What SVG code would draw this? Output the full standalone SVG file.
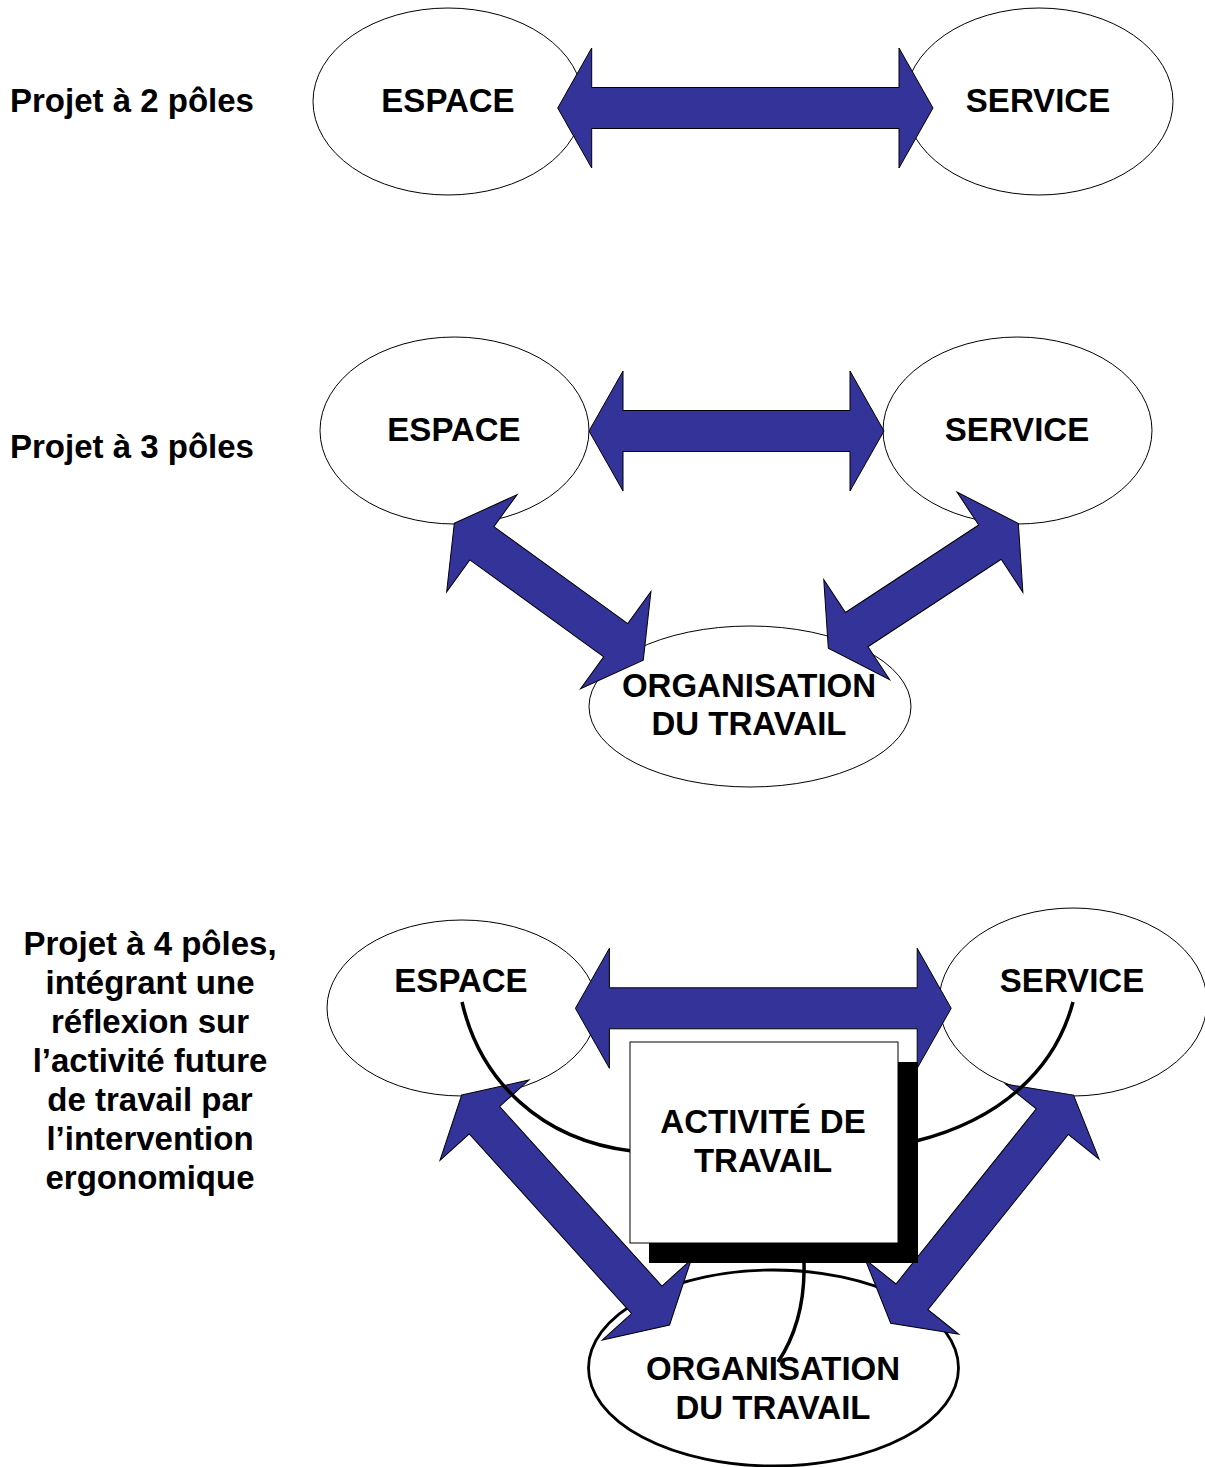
<svg xmlns="http://www.w3.org/2000/svg" width="1205" height="1467" viewBox="0 0 1205 1467">
<style>
.bg{fill:#fff}
.el{fill:#fff;stroke:#000;stroke-width:1}
.elb{fill:#fff;stroke:#000;stroke-width:2.8}
.arr{fill:#333399;stroke:#000;stroke-width:1;stroke-linejoin:miter}
.cv{fill:none;stroke:#000;stroke-width:3.5}
.t{font-family:"Liberation Sans",Arial,sans-serif;font-weight:bold;font-size:33px;fill:#000}
.m{text-anchor:middle}
</style>
<rect class="bg" x="0" y="0" width="1205" height="1467"/>

<!-- Section 1 -->
<text class="t" x="10" y="112">Projet à 2 pôles</text>
<g id="s1-espace"><ellipse class="el" cx="448" cy="101.5" rx="135" ry="93.5"/><text class="t m" x="448" y="112">ESPACE</text></g>
<g id="s1-service"><ellipse class="el" cx="1039" cy="101.5" rx="134" ry="93.5"/><text class="t m" x="1038" y="112">SERVICE</text></g>
<g id="s1-connectors">
<polygon class="arr" transform="translate(557.7,108)" points="0,0 34,-60 34,-20.5 341.3,-20.5 341.3,-60 375.3,0 341.3,60 341.3,20.5 34,20.5 34,60"/>
</g>

<!-- Section 2 -->
<text class="t" x="10" y="458">Projet à 3 pôles</text>
<g id="s2-espace"><ellipse class="el" cx="454.5" cy="430.5" rx="134.5" ry="93.5"/><text class="t m" x="454" y="441">ESPACE</text></g>
<g id="s2-service"><ellipse class="el" cx="1017.5" cy="430.5" rx="134.5" ry="93.5"/><text class="t m" x="1017" y="441">SERVICE</text></g>
<g id="s2-organisation"><ellipse class="el" cx="750" cy="706.5" rx="161" ry="80.5"/></g>
<g id="s2-connectors">
<polygon class="arr" transform="translate(589,431)" points="0,0 34,-60 34,-20.5 261,-20.5 261,-60 295,0 261,60 261,20.5 34,20.5 34,60"/>
<polygon class="arr" transform="translate(454.3,523.3) rotate(35.9)" points="0,0 34,-60 34,-20.5 199.3,-20.5 199.3,-60 233.3,0 199.3,60 199.3,20.5 34,20.5 34,60"/>
<polygon class="arr" transform="translate(828.3,648.3) rotate(-33.3)" points="0,0 34,-60 34,-20.5 193.4,-20.5 193.4,-60 227.4,0 193.4,60 193.4,20.5 34,20.5 34,60"/>
</g>
<g id="s2-organisation-label"><text class="t m" x="749" y="697">ORGANISATION</text><text class="t m" x="749" y="735">DU TRAVAIL</text></g>

<!-- Section 3 -->
<g id="s3-label">
<text class="t m" x="150" y="955">Projet à 4 pôles,</text>
<text class="t m" x="150" y="994">intégrant une</text>
<text class="t m" x="150" y="1033">réflexion sur</text>
<text class="t m" x="150" y="1072">l’activité future</text>
<text class="t m" x="150" y="1111">de travail par</text>
<text class="t m" x="150" y="1150">l’intervention</text>
<text class="t m" x="150" y="1189">ergonomique</text>
</g>
<g id="s3-espace"><ellipse class="el" cx="462" cy="1008" rx="135" ry="88"/></g>
<g id="s3-service"><ellipse class="el" cx="1073" cy="1002" rx="134" ry="94"/></g>
<g id="s3-organisation"><ellipse class="elb" cx="773.5" cy="1368" rx="185" ry="98"/></g>
<g id="s3-connectors">
<polygon class="arr" transform="translate(575.4,1008.3)" points="0,0 34,-60 34,-20.5 341.8,-20.5 341.8,-60 375.8,0 341.8,60 341.8,20.5 34,20.5 34,60"/>
<polygon class="arr" transform="translate(461.7,1095) rotate(47.9)" points="0,0 34,-60 34,-20.5 276,-20.5 276,-60 310,0 276,60 276,20.5 34,20.5 34,60"/>
<polygon class="arr" transform="translate(890.7,1323.3) rotate(-51.3)" points="0,0 34,-60 34,-20.5 258.4,-20.5 258.4,-60 292.4,0 258.4,60 258.4,20.5 34,20.5 34,60"/>
<path class="cv" d="M462,1002 C480,1080 540,1140 632,1151"/>
<path class="cv" d="M1073,1002 C1055,1070 1000,1120 916,1141"/>
<path class="cv" d="M804,1262 C805,1300 796,1335 778,1362"/>
</g>
<g id="s3-activite">
<rect x="649" y="1062" width="269" height="201" fill="#000"/>
<rect x="630" y="1042" width="268" height="201" fill="#fff" stroke="#000" stroke-width="1"/>
<text class="t m" x="763" y="1133">ACTIVITÉ DE</text>
<text class="t m" x="763" y="1172">TRAVAIL</text>
</g>
<g id="s3-texts">
<text class="t m" x="461" y="992">ESPACE</text>
<text class="t m" x="1072" y="992">SERVICE</text>
<text class="t m" x="773" y="1380">ORGANISATION</text>
<text class="t m" x="773" y="1419">DU TRAVAIL</text>
</g>
</svg>
